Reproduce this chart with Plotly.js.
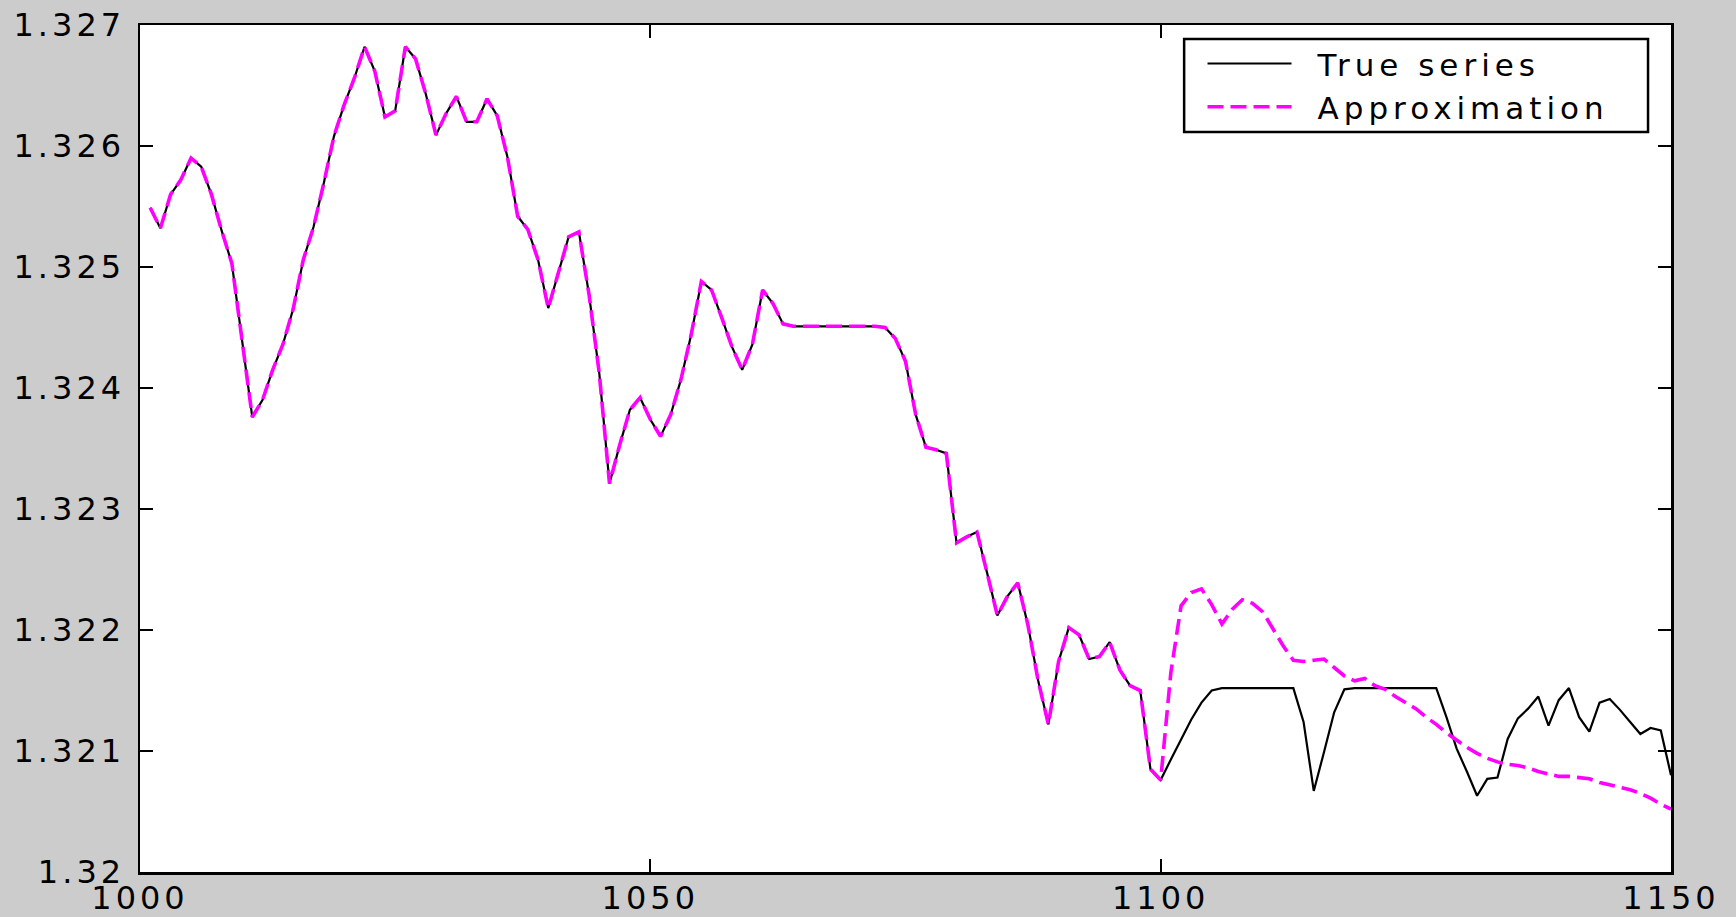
<!DOCTYPE html>
<html>
<head>
<meta charset="utf-8">
<script src="https://cdn.plot.ly/plotly-3.0.1.min.js"></script>
<style>
  html, body { margin: 0; padding: 0; background: #cccccc; }
  #chart { width: 1736px; height: 917px; }
  #chart svg text { letter-spacing: 4px; }
  #chart .legend .scrollbox { clip-path: none !important; }
  #chart .legend .legendtext { transform: translateX(21px); letter-spacing: 5px; }
</style>
</head>
<body>
<div id="chart"></div>
<script>
// x positions (time index)
const xShared = [1001,1002,1003,1004,1005,1006,1007,1008,1009,1010,
  1011,1012,1013,1014,1015,1016,1017,1018,1019,1020,
  1021,1022,1023,1024,1025,1026,1027,1028,1029,1030,
  1031,1032,1033,1034,1035,1036,1037,1038,1039,1040,
  1041,1042,1043,1044,1045,1046,1047,1048,1049,1050,
  1051,1052,1053,1054,1055,1056,1057,1058,1059,1060,
  1061,1062,1063,1064,1065,1066,1067,1068,1069,1070,
  1071,1072,1073,1074,1075,1076,1077,1078,1079,1080,
  1081,1082,1083,1084,1085,1086,1087,1088,1089,1090,
  1091,1092,1093,1094,1095,1096,1097,1098,1099,1100];
const xTail = [1101,1102,1103,1104,1105,1106,1107,1108,1109,1110,
  1111,1112,1113,1114,1115,1116,1117,1118,1119,1120,
  1121,1122,1123,1124,1125,1126,1127,1128,1129,1130,
  1131,1132,1133,1134,1135,1136,1137,1138,1139,1140,
  1141,1142,1143,1144,1145,1146,1147,1148,1149,1150];

// values where the true series and the approximation coincide (1001..1100)
const sharedValues = [1.32549,1.32532,1.32560,1.32572,1.32590,1.32583,1.32560,1.32530,1.32503,1.32439,
  1.32376,1.32390,1.32415,1.32436,1.32465,1.32506,1.32533,1.32569,1.32608,1.32634,
  1.32656,1.32682,1.32662,1.32624,1.32629,1.32682,1.32672,1.32643,1.32609,1.32627,
  1.32641,1.32620,1.32620,1.32639,1.32625,1.32591,1.32542,1.32531,1.32506,1.32466,
  1.32495,1.32525,1.32529,1.32477,1.32412,1.32321,1.32353,1.32382,1.32392,1.32374,
  1.32360,1.32378,1.32407,1.32444,1.32488,1.32481,1.32458,1.32434,1.32415,1.32436,
  1.32481,1.32470,1.32453,1.32451,1.32451,1.32451,1.32451,1.32451,1.32451,1.32451,
  1.32451,1.32451,1.32450,1.32441,1.32422,1.32378,1.32351,1.32349,1.32346,1.32272,
  1.32277,1.32281,1.32247,1.32212,1.32228,1.32239,1.32204,1.32158,1.32122,1.32174,
  1.32202,1.32196,1.32176,1.32178,1.32190,1.32167,1.32154,1.32150,1.32085,1.32076];

// true series after 1100
const trueTail = [1.32093,1.32110,1.32126,1.32140,1.32150,1.32152,1.32152,1.32152,1.32152,1.32152,
  1.32152,1.32152,1.32152,1.32124,1.32067,1.32099,1.32132,1.32151,1.32152,1.32152,
  1.32152,1.32152,1.32152,1.32152,1.32152,1.32152,1.32152,1.32128,1.32102,1.32083,
  1.32063,1.32077,1.32078,1.32110,1.32127,1.32135,1.32145,1.32121,1.32142,1.32152,
  1.32128,1.32116,1.32140,1.32143,1.32134,1.32124,1.32114,1.32119,1.32117,1.32080];

// approximation after 1100
const approxTail = [1.32165,1.32220,1.32231,1.32234,1.32221,1.32205,1.32217,1.32225,1.32222,1.32215,
  1.32201,1.32187,1.32175,1.32174,1.32175,1.32176,1.32169,1.32162,1.32158,1.32160,
  1.32154,1.32151,1.32145,1.32140,1.32135,1.32128,1.32122,1.32115,1.32109,1.32103,
  1.32098,1.32094,1.32091,1.32089,1.32088,1.32086,1.32083,1.32081,1.32079,1.32079,
  1.32078,1.32077,1.32074,1.32072,1.32070,1.32068,1.32065,1.32061,1.32056,1.32052];

const seriesNames = ["True series", "Approximation"];
const xTickVals = [1000, 1050, 1100, 1150];
const xTickText = ["1000", "1050", "1100", "1150"];
const yTickVals = [1.320, 1.321, 1.322, 1.323, 1.324, 1.325, 1.326, 1.327];
const yTickText = ["1.32", "1.321", "1.322", "1.323", "1.324", "1.325", "1.326", "1.327"];

const xAll = xShared.concat(xTail);
const trueY = sharedValues.concat(trueTail);
const approxY = sharedValues.concat(approxTail);

const FONT = "DejaVu Sans, Arial, sans-serif";

const traces = [
  {
    x: xAll, y: trueY, name: seriesNames[0], type: "scatter", mode: "lines",
    line: { color: "#000000", width: 2.2 }
  },
  {
    x: xAll, y: approxY, name: seriesNames[1], type: "scatter", mode: "lines",
    line: { color: "#ff00ff", width: 3.6, dash: "16px,7px" }
  }
];

const axisCommon = {
  showgrid: false, zeroline: false,
  showline: true, linecolor: "#000000", linewidth: 2.5,
  mirror: "ticks", ticks: "inside", ticklen: 13, tickwidth: 2, tickcolor: "#000000",
  tickfont: { family: FONT, size: 32, color: "#000000" }
};

const layout = {
  width: 1736, height: 917,
  paper_bgcolor: "#cccccc", plot_bgcolor: "#ffffff",
  margin: { l: 140, r: 65, t: 25, b: 45, pad: 0 },
  showlegend: true,
  xaxis: Object.assign({}, axisCommon, {
    range: [1000, 1150], tickmode: "array", tickvals: xTickVals, ticktext: xTickText,
    ticklabelstandoff: -4
  }),
  yaxis: Object.assign({}, axisCommon, {
    range: [1.320, 1.327], tickmode: "array", tickvals: yTickVals, ticktext: yTickText,
    ticklabelstandoff: 6
  }),
  legend: {
    x: 0.694, y: 0.986, xanchor: "left", yanchor: "top",
    bgcolor: "rgba(0,0,0,0)", borderwidth: 0,
    font: { family: FONT, size: 31, color: "#000000" },
    itemwidth: 84, tracegroupgap: 0
  },
  shapes: [{
    type: "rect", xref: "paper", yref: "paper",
    x0: 0.682, x1: 0.985, y0: 0.8737, y1: 0.9835,
    line: { color: "#000000", width: 2.5 }, fillcolor: "#ffffff", layer: "above"
  }]
};

Plotly.newPlot("chart", traces, layout, { displayModeBar: false, staticPlot: true });
</script>
</body>
</html>
